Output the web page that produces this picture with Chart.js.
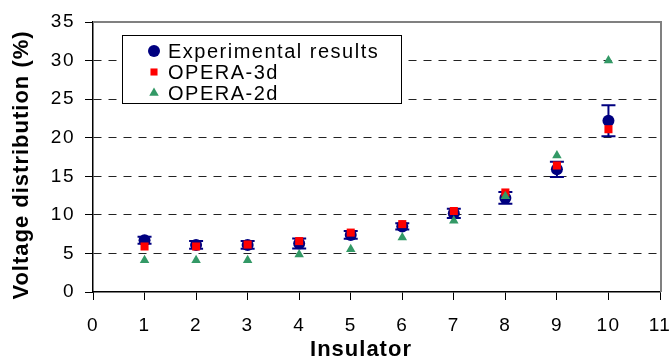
<!DOCTYPE html>
<html>
<head>
<meta charset="utf-8">
<script src="https://cdn.jsdelivr.net/npm/chart.js@4.4.0/dist/chart.umd.min.js"></script>
<style>
  html, body { margin: 0; padding: 0; background: #fff; }
  #wrap { width: 669px; height: 358px; }
</style>
</head>
<body>
<div id="wrap"><canvas id="chart" width="669" height="358"></canvas></div>
<script>
// insulator number along the string
const insulators = [1, 2, 3, 4, 5, 6, 7, 8, 9, 10];

// voltage distribution (%)
const experimental = [6.7, 6.1, 6.1, 6.3, 7.4, 8.5, 10.2, 12.2, 15.9, 22.2];
const experimentalErr = [0.45, 0.5, 0.5, 0.65, 0.5, 0.4, 0.6, 0.75, 1.0, 2.0];
const opera3d = [5.9, 5.9, 6.15, 6.6, 7.7, 8.8, 10.5, 12.9, 16.4, 21.1];
const opera2d = [4.1, 4.1, 4.1, 4.85, 5.55, 7.05, 9.25, 12.4, 17.7, 30.0];

const seriesLabels = ['Experimental results', 'OPERA-3d', 'OPERA-2d'];
const xTitle = 'Insulator';
const yTitle = 'Voltage distribution (%)';

const FONT = '"Liberation Sans", Arial, sans-serif';
const NAVY = '#000080';
const RED = '#ff0000';
const GREEN = '#339966';

function toPoints(values) {
  return insulators.map((x, i) => ({ x: x, y: values[i] }));
}

// Excel style text is a bit wider than plain Arial
const spacing = {
  id: 'spacing',
  beforeLayout(chart) { chart.ctx.letterSpacing = '1.5px'; },
  beforeDraw(chart) { chart.ctx.letterSpacing = '1.5px'; }
};

// grey frame on top and right of plot area
const frame = {
  id: 'frame',
  beforeDatasetsDraw(chart) {
    const { ctx, chartArea } = chart;
    ctx.save();
    ctx.strokeStyle = '#808080';
    ctx.lineWidth = 2;
    ctx.beginPath();
    ctx.moveTo(chartArea.left, chartArea.top);
    ctx.lineTo(chartArea.right + 1, chartArea.top);
    ctx.lineTo(chartArea.right + 1, chartArea.bottom);
    ctx.stroke();
    ctx.restore();
  }
};

// error bars on the experimental series
const errorBars = {
  id: 'errorBars',
  afterDatasetDraw(chart, args) {
    if (args.index !== 0) return;
    const { ctx } = chart;
    const xs = chart.scales.x;
    const ys = chart.scales.y;
    ctx.save();
    ctx.strokeStyle = NAVY;
    ctx.lineWidth = 2;
    experimental.forEach((v, i) => {
      const x = xs.getPixelForValue(insulators[i]);
      const lo = ys.getPixelForValue(v - experimentalErr[i]);
      const hi = ys.getPixelForValue(v + experimentalErr[i]);
      ctx.beginPath();
      ctx.moveTo(x, lo);
      ctx.lineTo(x, hi);
      ctx.moveTo(x - 7, lo);
      ctx.lineTo(x + 7, lo);
      ctx.moveTo(x - 7, hi);
      ctx.lineTo(x + 7, hi);
      ctx.stroke();
    });
    ctx.restore();
  }
};

// boxed legend inside the plot + axis titles
const extras = {
  id: 'extras',
  afterDraw(chart) {
    const ctx = chart.ctx;
    ctx.save();
    ctx.fillStyle = '#fff';
    ctx.fillRect(122, 35, 280, 69);
    ctx.strokeStyle = '#000';
    ctx.lineWidth = 1;
    ctx.strokeRect(122.5, 35.5, 279, 68);

    const rows = [51, 72, 93];
    const sizes = [6, 5, 5.5];
    chart.data.datasets.forEach((ds, i) => {
      ctx.fillStyle = ds.backgroundColor;
      Chart.helpers.drawPoint(ctx, {
        pointStyle: ds.pointStyle, radius: sizes[i], rotation: 0, borderWidth: 0
      }, 154, rows[i]);
      ctx.fillStyle = '#000';
      ctx.font = '20px ' + FONT;
      ctx.letterSpacing = '1.5px';
      ctx.textAlign = 'left';
      ctx.textBaseline = 'middle';
      ctx.fillText(ds.label, 168, rows[i] + 1);
    });

    ctx.font = 'bold 22px ' + FONT;
    ctx.letterSpacing = '1px';
    ctx.textAlign = 'center';
    ctx.textBaseline = 'alphabetic';
    ctx.fillText(xTitle, 361, 356);

    ctx.translate(28, 165);
    ctx.rotate(-Math.PI / 2);
    ctx.fillText(yTitle, 0, 0);
    ctx.restore();
  }
};

const chart = new Chart(document.getElementById('chart'), {
  type: 'scatter',
  data: {
    datasets: [
      {
        label: seriesLabels[0],
        data: toPoints(experimental),
        pointStyle: 'circle',
        pointRadius: 6,
        backgroundColor: NAVY,
        borderWidth: 0,
        order: 3
      },
      {
        label: seriesLabels[1],
        data: toPoints(opera3d),
        pointStyle: 'rect',
        pointRadius: 5.7,
        backgroundColor: RED,
        borderWidth: 0,
        order: 2
      },
      {
        label: seriesLabels[2],
        data: toPoints(opera2d),
        pointStyle: 'triangle',
        pointRadius: 5.5,
        backgroundColor: GREEN,
        borderWidth: 0,
        order: 1
      }
    ]
  },
  options: {
    responsive: false,
    animation: false,
    layout: { padding: { top: 22, right: 9, left: 0, bottom: 0 } },
    plugins: {
      legend: { display: false },
      tooltip: { enabled: false }
    },
    scales: {
      x: {
        type: 'linear',
        min: 0,
        max: 11,
        ticks: {
          stepSize: 1,
          color: '#000',
          padding: 14,
          font: { family: FONT, size: 19 }
        },
        grid: {
          drawOnChartArea: false,
          tickLength: 8,
          tickColor: '#000',
          tickWidth: 1,
          tickBorderDash: []
        },
        border: { color: '#000', width: 1.5 },
        afterFit(scale) {
          scale.height = 66;
          scale.paddingLeft = 0;
          scale.paddingRight = 0;
        }
      },
      y: {
        min: 0,
        max: 35,
        ticks: {
          stepSize: 5,
          color: '#000',
          padding: 10,
          font: { family: FONT, size: 19 }
        },
        grid: {
          color: (c) => (c.tick && (c.tick.value === 0 || c.tick.value === 35)) ? 'rgba(0,0,0,0)' : '#222',
          lineWidth: 1,
          tickLength: 8,
          tickColor: '#000',
          tickWidth: 1,
          tickBorderDash: []
        },
        border: { color: '#000', width: 1.5, dash: [8, 7] },
        afterFit(scale) {
          scale.width = 93;
          scale.paddingTop = 0;
          scale.paddingBottom = 0;
        }
      }
    }
  },
  plugins: [spacing, frame, errorBars, extras]
});
</script>
</body>
</html>
